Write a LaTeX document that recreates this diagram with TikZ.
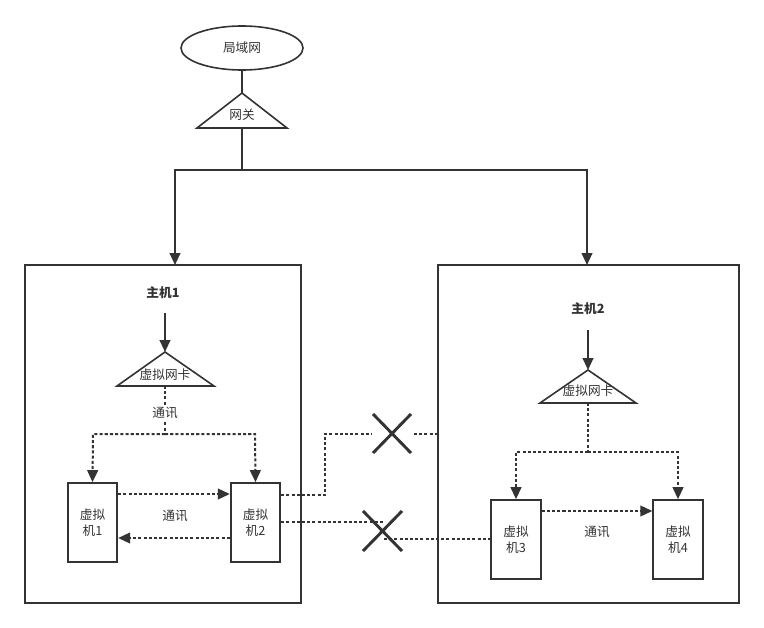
\documentclass[tikz,border=0pt]{standalone}
\usepackage{fontspec}
\newfontfamily\cjk{Noto Sans CJK SC}
\usetikzlibrary{shapes.geometric,arrows.meta}
\definecolor{ink}{HTML}{333333}
\begin{document}
\begin{tikzpicture}[x=0.75pt,y=-0.75pt,
  every node/.style={font=\cjk\fontsize{9.5pt}{12pt}\selectfont, text=ink},
  frame/.style={draw=ink, line width=1.5pt},
  shp/.style={draw=ink, line width=1.2pt},
  vm/.style={draw=ink, line width=1.5pt, minimum width=37pt, minimum height=59pt, align=center, inner sep=0pt},
  solidarr/.style={draw=ink, line width=1.5pt, -{Triangle[length=9pt,width=8pt]}},
  solidln/.style={draw=ink, line width=1.5pt},
  dotln/.style={draw=ink, line width=1.5pt, dash pattern=on 2.3pt off 1.6pt},
  dotarr/.style={dotln, -{Triangle[length=9pt,width=8pt]}},
  xmark/.style={draw=ink, line width=2.2pt},
  lbl/.style={fill=white, inner sep=1pt}]
\useasboundingbox (0,0) rectangle (764,628);
\fill[white] (0,0) rectangle (764,628);

% LAN ellipse
\node[ellipse, shp, minimum width=91.5pt, minimum height=33pt] (lan) at (242,48) {局域网};
% gateway triangle
\coordinate (gwtop) at (242,93);
\coordinate (gwbot) at (242,128);
\draw[shp, line join=miter] (gwtop) -- (287,128) -- (197,128) -- cycle;
\node (gw) at (242,115) {网关};
\draw[solidln] (lan.south) -- (gwtop);

% host frames
\node[frame, minimum width=207pt, minimum height=253.5pt, inner sep=0pt] (h1) at (163,434) {};
\node[frame, minimum width=225.75pt, minimum height=253.5pt, inner sep=0pt] (h2) at (588.5,434) {};

% gateway to hosts
\coordinate (split) at (242,170);
\coordinate (sl) at (175,170);
\coordinate (sr) at (587,170);
\coordinate (h1in) at (175,265);
\coordinate (h2in) at (587,265);
\draw[solidln] (gwbot) -- (split);
\draw[solidarr] (split) -- (sl) -- (h1in);
\draw[solidarr] (split) -- (sr) -- (h2in);

% host 1
\node[font=\cjk\bfseries\fontsize{9.5pt}{12pt}\selectfont] (t1) at (163,293) {主机1};
\coordinate (n1s) at (165,313);
\coordinate (n1top) at (165,352);
\coordinate (n1bot) at (165,386);
\draw[shp, line join=miter] (n1top) -- (214,386) -- (117,386) -- cycle;
\node (nic1) at (165,375) {虚拟网卡};
\draw[solidarr] (n1s) -- (n1top);
\coordinate (j1) at (165,434);
\draw[dotln] (n1bot) -- (j1);
\node[lbl] (c1) at (165,413) {通讯};
\node[vm] (vm1) at (92.5,522.5) {虚拟\\机1};
\node[vm] (vm2) at (255.5,522.5) {虚拟\\机2};
\draw[dotarr] (j1) -- (93,434) -- (vm1.north);
\draw[dotarr] (j1) -- (255,434) -- (vm2.north);
\draw[dotarr] (vm1.east |- 0,494) -- (vm2.west |- 0,494);
\draw[dotarr] (vm2.west |- 0,538) -- (vm1.east |- 0,538);
\node (c2) at (175,516) {通讯};

% host 2
\node[font=\cjk\bfseries\fontsize{9.5pt}{12pt}\selectfont] (t2) at (588,309) {主机2};
\coordinate (n2s) at (588,330);
\coordinate (n2top) at (588,370);
\coordinate (n2bot) at (588,403);
\draw[shp, line join=miter] (n2top) -- (636,403) -- (540,403) -- cycle;
\node (nic2) at (588,391) {虚拟网卡};
\draw[solidarr] (n2s) -- (n2top);
\coordinate (j2) at (588,452);
\draw[dotln] (n2bot) -- (j2);
\node[vm] (vm3) at (516,539.5) {虚拟\\机3};
\node[vm] (vm4) at (678,539.5) {虚拟\\机4};
\draw[dotarr] (j2) -- (516,452) -- (vm3.north);
\draw[dotarr] (j2) -- (678,452) -- (vm4.north);
\draw[dotarr] (vm3.east |- 0,511) -- (vm4.west |- 0,511);
\node (c3) at (597,532) {通讯};

% blocked links
\coordinate (xa) at (392,434);
\coordinate (xb) at (383,531);
\draw[dotln] (vm2.east |- 0,495) -- (325,495) -- (325,434) -- (371,434);
\draw[dotln] (414,434) -- (h2.west |- 0,434);
\draw[xmark] (373,414) -- (411,453);
\draw[xmark] (373,453) -- (411,414);
\draw[dotln] (vm2.east |- 0,522) -- (384,522);
\draw[dotln] (384,539) -- (vm3.west |- 0,539);
\draw[xmark] (363,511) -- (402,551);
\draw[xmark] (363,551) -- (402,511);
\end{tikzpicture}
\end{document}
